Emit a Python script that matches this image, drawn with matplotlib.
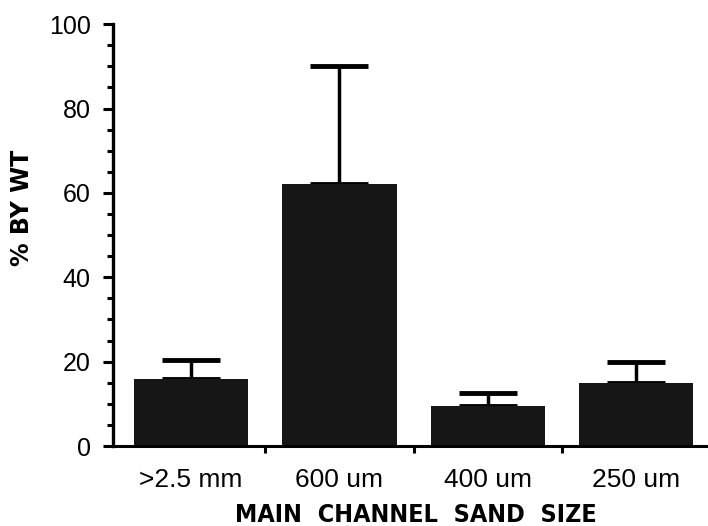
import numpy as np
import matplotlib.pyplot as plt
from matplotlib.ticker import MultipleLocator, FixedLocator

# данные с рисунка
sizes = ['>2.5 mm', '600 um', '400 um', '250 um']
pct_by_wt = [16, 62, 9.5, 15]
err_upper = [4.5, 28, 3, 5]
y_ticks = [0, 20, 40, 60, 80, 100]

fig = plt.figure(figsize=(7.08, 5.26), dpi=100)
ax = fig.add_axes([0.1596, 0.152, 0.8376, 0.802])

x = np.arange(len(sizes))
ax.bar(x, pct_by_wt, width=0.77, color='#161616', zorder=2)
ax.errorbar(x, pct_by_wt, yerr=[np.zeros(len(x)), err_upper], fmt='none',
            ecolor='black', elinewidth=2.5, capsize=21, capthick=3.5, zorder=1)

ax.set_xlim(-0.526, 3.47)
ax.set_ylim(0, 100)

for side in ['top', 'right']:
    ax.spines[side].set_visible(False)
ax.spines['left'].set_linewidth(2.4)
ax.spines['bottom'].set_linewidth(2.2)

ax.set_yticks(y_ticks)
ax.yaxis.set_minor_locator(MultipleLocator(5))
ax.tick_params(axis='y', which='major', direction='out', length=7, width=2.2,
               labelsize=18, pad=9)
ax.tick_params(axis='y', which='minor', direction='out', length=4, width=2.2)

ax.set_xticks(x)
ax.set_xticklabels(sizes)
ax.xaxis.set_minor_locator(FixedLocator([0.5, 1.5, 2.5]))
ax.tick_params(axis='x', which='major', length=0, labelsize=19, pad=16)
ax.tick_params(axis='x', which='minor', direction='out', length=5, width=2.2)

for lab in ax.get_xticklabels() + ax.get_yticklabels():
    lab.set_family('Liberation Sans')

fig.text(22 / 708, 1 - 208 / 526, '% BY WT', rotation=90, ha='center',
         va='center', fontsize=17, fontweight='bold', family='DejaVu Sans')
fig.text(416 / 708, 1 - 515 / 526, 'MAIN  CHANNEL  SAND  SIZE', ha='center',
         va='center', fontsize=18, fontweight='bold', family='DejaVu Sans',
         fontstretch='condensed')

plt.savefig('out.png', dpi=100)
